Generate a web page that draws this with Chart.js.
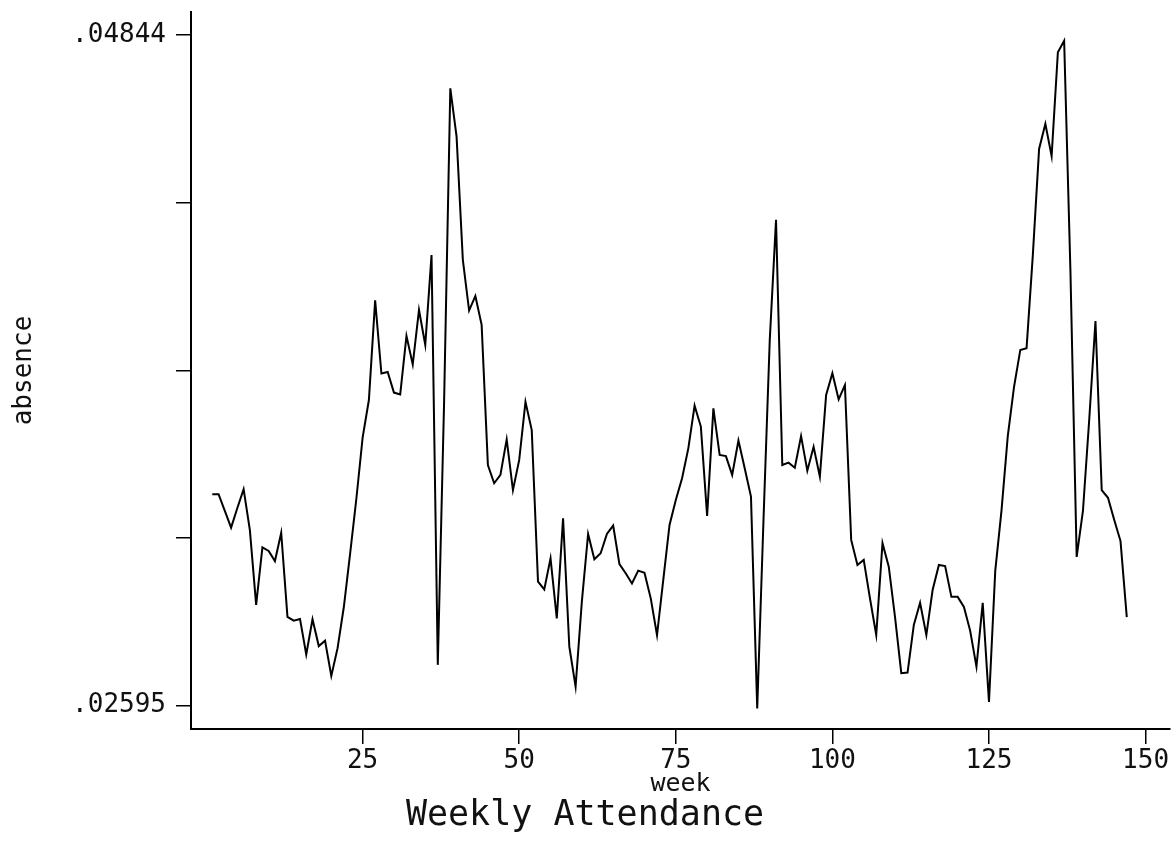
<!DOCTYPE html>
<html>
<head>
<meta charset="utf-8">
<title>Weekly Attendance</title>
<script src="https://cdn.jsdelivr.net/npm/chart.js@4.4.1/dist/chart.umd.min.js"></script>
<style>
  html, body { margin: 0; padding: 0; background: #fff; }
  canvas { display: block; }
</style>
</head>
<body>
<canvas id="myChart" width="1175" height="856"></canvas>
<script>
// week number (x) and absence rate (y)
var weeks = [
    1, 2, 3, 4, 5, 6, 7, 8, 9, 10, 11, 12, 13, 14, 15, 16, 17, 18, 19, 20,
    21, 22, 23, 24, 25, 26, 27, 28, 29, 30, 31, 32, 33, 34, 35, 36, 37, 38, 39, 40,
    41, 42, 43, 44, 45, 46, 47, 48, 49, 50, 51, 52, 53, 54, 55, 56, 57, 58, 59, 60,
    61, 62, 63, 64, 65, 66, 67, 68, 69, 70, 71, 72, 73, 74, 75, 76, 77, 78, 79, 80,
    81, 82, 83, 84, 85, 86, 87, 88, 89, 90, 91, 92, 93, 94, 95, 96, 97, 98, 99, 100,
    101, 102, 103, 104, 105, 106, 107, 108, 109, 110, 111, 112, 113, 114, 115, 116, 117, 118, 119, 120,
    121, 122, 123, 124, 125, 126, 127, 128, 129, 130, 131, 132, 133, 134, 135, 136, 137, 138, 139, 140,
    141, 142, 143, 144, 145, 146, 147
];
var absence = [
    0.03304, 0.03304, 0.03248, 0.03192, 0.03258, 0.03321, 0.03184, 0.02933, 0.03126, 0.03114,
    0.03080, 0.03175, 0.02893, 0.02880, 0.02886, 0.02767, 0.02885, 0.02795, 0.02813, 0.02695,
    0.02788, 0.02926, 0.03104, 0.03289, 0.03494, 0.03620, 0.03954, 0.03709, 0.03714, 0.03645,
    0.03639, 0.03835, 0.03739, 0.03922, 0.03805, 0.04106, 0.02732, 0.03607, 0.04665, 0.04503,
    0.04090, 0.03920, 0.03969, 0.03872, 0.03402, 0.03341, 0.03369, 0.03488, 0.03318, 0.03419,
    0.03614, 0.03519, 0.03011, 0.02985, 0.03089, 0.02888, 0.03223, 0.02793, 0.02659, 0.02944,
    0.03171, 0.03086, 0.03106, 0.03171, 0.03199, 0.03070, 0.03039, 0.03005, 0.03048, 0.03041,
    0.02955, 0.02832, 0.03017, 0.03201, 0.03285, 0.03358, 0.03458, 0.03601, 0.03531, 0.03231,
    0.03592, 0.03436, 0.03432, 0.03369, 0.03484, 0.03391, 0.03296, 0.02586, 0.03218, 0.03821,
    0.04224, 0.03402, 0.03410, 0.03393, 0.03499, 0.03383, 0.03463, 0.03363, 0.03637, 0.03710,
    0.03622, 0.03670, 0.03151, 0.03067, 0.03084, 0.02955, 0.02832, 0.03140, 0.03061, 0.02892,
    0.02704, 0.02706, 0.02866, 0.02940, 0.02832, 0.02983, 0.03067, 0.03063, 0.02960, 0.02960,
    0.02926, 0.02846, 0.02726, 0.02940, 0.02608, 0.03047, 0.03250, 0.03499, 0.03664, 0.03788,
    0.03794, 0.04106, 0.04462, 0.04546, 0.04438, 0.04786, 0.04825, 0.04056, 0.03094, 0.03248,
    0.03553, 0.03885, 0.03318, 0.03292, 0.03218, 0.03147, 0.02892
];
var xTicks = [25, 50, 75, 100, 125, 150];
var yTicks = [0.02595, 0.0315725, 0.037195, 0.0428175, 0.04844];
var yTickLabels = ['.02595', '', '', '', '.04844'];

var FONT = "'DejaVu Sans Mono', 'Liberation Mono', monospace";
var INK = '#111';

var points = [];
for (var i = 0; i < weeks.length; i++) {
    points.push({ x: weeks[i], y: absence[i] });
}

new Chart("myChart", {
    type: 'line',
    data: {
        datasets: [{
            label: 'absence',
            data: points,
            borderColor: '#000',
            borderWidth: 2,
            pointRadius: 0,
            tension: 0,
            fill: false
        }]
    },
    options: {
        responsive: false,
        animation: false,
        devicePixelRatio: 1,
        layout: {
            padding: { left: 0, top: 12, right: 5, bottom: 0 }
        },
        plugins: {
            legend: { display: false },
            tooltip: { enabled: false },
            title: {
                display: true,
                position: 'bottom',
                text: 'Weekly Attendance',
                color: INK,
                font: { family: FONT, size: 35, weight: 'normal' },
                padding: { top: 0, bottom: 19 }
            }
        },
        scales: {
            x: {
                type: 'linear',
                min: -2.4,
                max: 153.9,
                afterFit: function (scale) {
                    scale.height = 66;
                    scale.paddingLeft = 0;
                    scale.paddingRight = 0;
                },
                afterBuildTicks: function (axis) {
                    axis.ticks = xTicks.map(function (v) { return { value: v }; });
                },
                ticks: {
                    color: INK,
                    padding: 2,
                    maxRotation: 0,
                    font: { family: FONT, size: 26 },
                    callback: function (value) { return String(value); }
                },
                grid: {
                    display: true,
                    drawOnChartArea: false,
                    drawTicks: true,
                    tickLength: 15,
                    color: '#000',
                    lineWidth: 1.5
                },
                border: { display: true, color: '#000', width: 2 },
                title: {
                    display: true,
                    text: 'week',
                    color: INK,
                    font: { family: FONT, size: 25 },
                    padding: { top: 0, bottom: -4 }
                }
            },
            y: {
                type: 'linear',
                min: 0.025169,
                max: 0.049211,
                afterFit: function (scale) {
                    scale.width = 191;
                    scale.paddingTop = 0;
                    scale.paddingBottom = 0;
                },
                afterBuildTicks: function (axis) {
                    axis.ticks = yTicks.map(function (v) { return { value: v }; });
                },
                ticks: {
                    color: INK,
                    padding: 10,
                    font: { family: FONT, size: 26 },
                    callback: function (value, index) { return yTickLabels[index]; }
                },
                grid: {
                    display: true,
                    drawOnChartArea: false,
                    drawTicks: true,
                    tickLength: 15,
                    color: '#000',
                    lineWidth: 1.5
                },
                border: { display: true, color: '#000', width: 2 },
                title: {
                    display: true,
                    text: 'absence',
                    color: INK,
                    font: { family: FONT, size: 26 },
                    padding: { top: 9, bottom: 0 }
                }
            }
        }
    }
});
</script>
</body>
</html>
